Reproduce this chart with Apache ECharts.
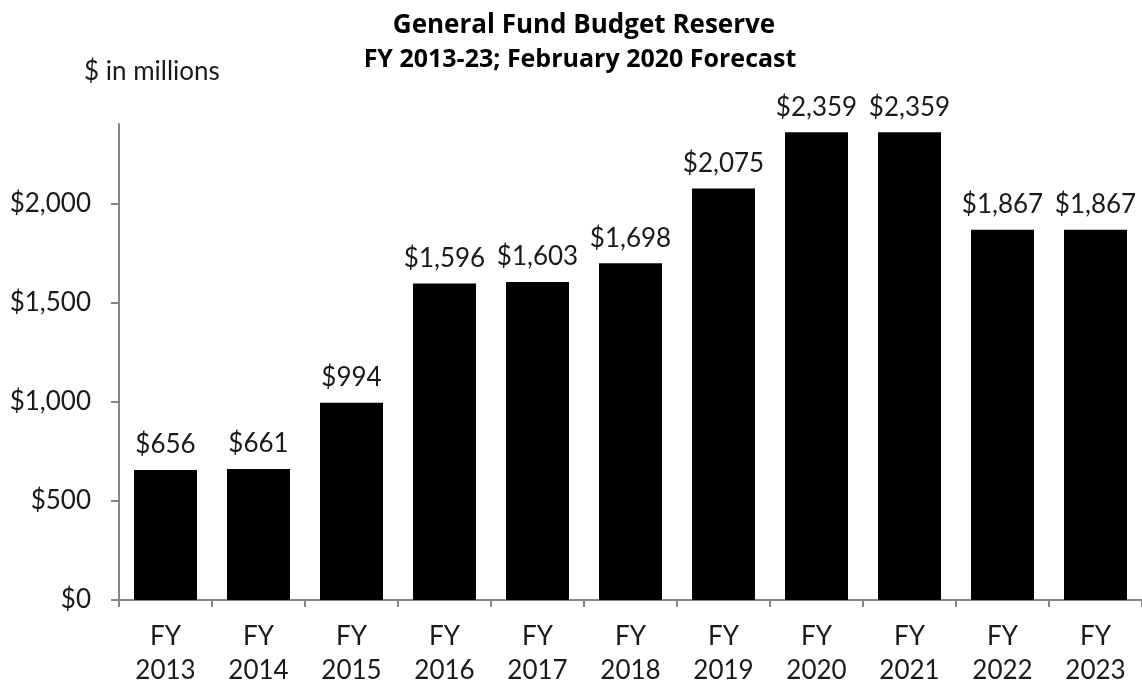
<!DOCTYPE html>
<html><head><meta charset="utf-8">
<script src="https://cdn.jsdelivr.net/npm/echarts@6/dist/echarts.min.js"></script>
<style>html,body{margin:0;padding:0;background:#fff}#c{width:1142px;height:690px}</style>
</head><body><div id="c"></div>
<script>
var categories = ['FY\n2013','FY\n2014','FY\n2015','FY\n2016','FY\n2017','FY\n2018','FY\n2019','FY\n2020','FY\n2021','FY\n2022','FY\n2023'];
var reserve = [656, 661, 994, 1596, 1603, 1698, 2075, 2359, 2359, 1867, 1867];
var yTicks = [0, 500, 1000, 1500, 2000];
var font = 'Lato, "Open Sans", sans-serif';
var titleFont = '"Open Sans", Lato, sans-serif';
function money(v){ return '$' + Number(v).toLocaleString('en-US'); }
var chart = echarts.init(document.getElementById('c'), null, {renderer:'canvas'});
chart.setOption({
  animation:false,
  backgroundColor:'#fff',
  title:[{
    text:'General Fund Budget Reserve',
    left:579, top:4, textAlign:'center',
    textStyle:{fontFamily:titleFont, fontSize:26, fontWeight:'bold', color:'#000', lineHeight:34}
  },{
    text:'FY 2013-23; February 2020 Forecast',
    left:575, top:38, textAlign:'center',
    textStyle:{fontFamily:titleFont, fontSize:25, fontWeight:'bold', color:'#000', lineHeight:34}
  },{
    text:'$ in millions', left:79, top:52,
    textStyle:{fontFamily:font, fontSize:26, fontWeight:'normal', color:'#1a1a1a', lineHeight:30}
  }],
  grid:{left:119, top:124, right:-6, bottom:90, containLabel:false},
  xAxis:{
    type:'category', data:categories,
    axisLine:{lineStyle:{color:'#868686', width:2}},
    axisTick:{show:true, length:7, lineStyle:{color:'#868686', width:2}},
    axisLabel:{fontFamily:font, fontSize:26, color:'#1a1a1a', margin:20, lineHeight:34}
  },
  yAxis:{
    type:'value', min:0, max:2400,
    splitLine:{show:false},
    axisLine:{show:true, lineStyle:{color:'#868686', width:2}},
    axisTick:{show:true, length:8, customValues:yTicks, lineStyle:{color:'#868686', width:2}},
    axisLabel:{fontFamily:font, fontSize:26, color:'#1a1a1a', margin:28, customValues:yTicks,
      formatter:function(v){ return money(v); }}
  },
  series:[{
    type:'bar', data:reserve, barWidth:63,
    itemStyle:{color:'#000'},
    label:{show:true, position:'top', distance:12, fontFamily:font, fontSize:26, lineHeight:26, color:'#1a1a1a',
      formatter:function(p){ return money(p.value); }}
  }]
});
</script></body></html>
